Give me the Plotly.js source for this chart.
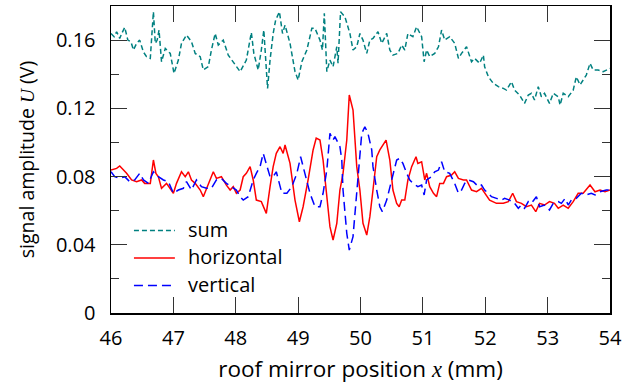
<!DOCTYPE html>
<html>
<head>
<meta charset="utf-8">
<script src="https://cdn.plot.ly/plotly-3.0.1.min.js"></script>
<style>html,body{margin:0;padding:0;background:#fff;}</style>
</head>
<body>
<div id="chart" style="width:635px;height:389px;"></div>
<script>
// sum signal
var sumX = [46.00,46.05,46.09,46.14,46.18,46.22,46.27,46.32,46.36,46.41,46.46,46.52,46.57,46.63,46.68,46.71,46.74,46.77,46.81,46.87,46.95,47.01,47.08,47.13,47.21,47.29,47.35,47.43,47.48,47.56,47.61,47.67,47.72,47.80,47.88,47.96,48.07,48.17,48.25,48.29,48.36,48.41,48.45,48.51,48.55,48.60,48.64,48.70,48.75,48.79,48.87,48.95,49.00,49.06,49.14,49.22,49.27,49.35,49.39,49.42,49.46,49.51,49.56,49.62,49.64,49.68,49.75,49.83,49.88,49.94,
  49.99,50.04,50.10,50.15,50.20,50.28,50.34,50.42,50.47,50.52,50.60,50.66,50.71,50.76,50.84,50.90,50.95,50.98,51.02,51.06,51.11,51.19,51.25,51.30,51.35,51.43,51.51,51.57,51.62,51.70,51.78,51.83,51.91,51.97,51.99,52.05,52.13,52.21,52.29,52.34,52.42,52.47,52.55,52.63,52.69,52.74,52.79,52.85,52.90,52.95,53.03,53.09,53.17,53.20,53.25,53.33,53.41,53.46,53.52,53.57,53.62,53.68,53.73,53.81,53.89,54.00];
var sumY = [0.1639,0.1620,0.1649,0.1610,0.1645,0.1675,0.1600,0.1590,0.1542,0.1580,0.1600,0.1530,0.1503,0.1493,0.1766,0.1581,0.1600,0.1659,0.1473,0.1551,0.1522,0.1405,0.1483,0.1581,0.1630,0.1591,0.1522,0.1503,0.1425,0.1444,0.1542,0.1639,0.1571,0.1600,0.1512,0.1473,0.1415,0.1483,0.1645,0.1522,0.1425,0.1542,0.1659,0.1317,0.1483,0.1639,0.1718,0.1766,0.1639,0.1688,0.1581,0.1415,0.1366,0.1473,0.1542,0.1669,0.1669,0.1600,0.1542,0.1757,0.1415,0.1483,0.1444,0.1561,0.1464,0.1766,0.1737,0.1639,0.1542,0.1561,
  0.1639,0.1600,0.1522,0.1600,0.1610,0.1649,0.1581,0.1639,0.1542,0.1512,0.1522,0.1571,0.1542,0.1639,0.1620,0.1678,0.1639,0.1620,0.1473,0.1542,0.1503,0.1522,0.1561,0.1659,0.1600,0.1620,0.1581,0.1493,0.1522,0.1561,0.1473,0.1493,0.1464,0.1512,0.1444,0.1385,0.1346,0.1327,0.1317,0.1307,0.1356,0.1307,0.1278,0.1229,0.1278,0.1288,0.1249,0.1327,0.1268,0.1288,0.1229,0.1288,0.1268,0.1219,0.1288,0.1268,0.1307,0.1385,0.1337,0.1366,0.1395,0.1464,0.1425,0.1425,0.1415,0.1434];

// horizontal signal
var horX = [46.00,46.09,46.14,46.20,46.25,46.33,46.41,46.49,46.54,46.63,46.68,46.72,46.76,46.81,46.89,47.00,47.05,47.13,47.19,47.24,47.29,47.35,47.43,47.48,47.56,47.64,47.69,47.77,47.85,47.91,47.96,48.01,48.07,48.12,48.17,48.23,48.28,48.33,48.41,48.49,48.55,48.60,48.65,48.71,48.76,48.79,48.87,48.95,49.02,49.08,49.16,49.24,49.29,49.35,49.40,49.46,49.51,49.56,49.62,49.67,49.72,49.78,49.82,49.88,49.94,
  49.99,50.04,50.10,50.15,50.20,50.26,50.31,50.36,50.41,50.47,50.52,50.58,50.62,50.66,50.71,50.76,50.82,50.89,50.92,50.98,51.03,51.06,51.11,51.17,51.22,51.27,51.33,51.38,51.46,51.51,51.57,51.65,51.70,51.78,51.86,51.94,51.99,52.07,52.18,52.29,52.37,52.44,52.50,52.58,52.66,52.74,52.81,52.87,52.95,53.03,53.11,53.17,53.25,53.33,53.41,53.49,53.57,53.68,53.76,53.84,53.92,54.00];
var horY = [0.0838,0.0848,0.0862,0.0838,0.0819,0.0780,0.0770,0.0780,0.0760,0.0760,0.0897,0.0819,0.0799,0.0731,0.0760,0.0702,0.0760,0.0828,0.0799,0.0828,0.0780,0.0760,0.0721,0.0682,0.0760,0.0828,0.0789,0.0799,0.0750,0.0721,0.0741,0.0702,0.0721,0.0799,0.0819,0.0858,0.0780,0.0662,0.0653,0.0584,0.0741,0.0858,0.0936,0.0975,0.0936,0.0985,0.0877,0.0662,0.0535,0.0623,0.0780,0.0956,0.1025,0.1014,0.0897,0.0662,0.0506,0.0428,0.0526,0.0721,0.0819,0.1014,0.1278,0.1190,0.0858,
  0.0721,0.0526,0.0457,0.0565,0.0721,0.0916,0.0956,0.0985,0.1014,0.0897,0.0721,0.0643,0.0623,0.0662,0.0662,0.0780,0.0858,0.0916,0.0877,0.0887,0.0780,0.0819,0.0741,0.0702,0.0682,0.0760,0.0760,0.0799,0.0809,0.0828,0.0789,0.0780,0.0780,0.0721,0.0711,0.0731,0.0702,0.0662,0.0643,0.0643,0.0653,0.0702,0.0653,0.0643,0.0623,0.0633,0.0594,0.0643,0.0633,0.0653,0.0643,0.0614,0.0633,0.0614,0.0653,0.0702,0.0702,0.0750,0.0711,0.0721,0.0711,0.0721];

// vertical signal
var verX = [46.00,46.06,46.14,46.22,46.30,46.38,46.46,46.52,46.60,46.68,46.76,46.84,46.92,47.00,47.08,47.16,47.21,47.29,47.37,47.45,47.53,47.61,47.69,47.77,47.85,47.93,48.01,48.07,48.12,48.20,48.28,48.33,48.39,48.44,48.49,48.55,48.60,48.65,48.74,48.82,48.90,48.98,49.04,49.11,49.19,49.27,49.35,49.40,49.46,49.51,49.56,49.59,49.64,49.67,49.70,49.72,49.78,49.82,49.88,49.94,49.99,50.02,50.07,50.12,50.18,
  50.20,50.26,50.31,50.35,50.42,50.50,50.58,50.63,50.68,50.74,50.79,50.84,50.92,50.98,51.02,51.06,51.14,51.19,51.25,51.30,51.35,51.43,51.51,51.57,51.62,51.67,51.73,51.81,51.89,51.94,51.99,52.05,52.10,52.18,52.26,52.31,52.39,52.47,52.53,52.58,52.63,52.69,52.74,52.82,52.87,52.95,53.03,53.09,53.17,53.22,53.28,53.33,53.38,53.46,53.54,53.62,53.70,53.76,53.84,53.94,54.00];
var verY = [0.0828,0.0799,0.0789,0.0799,0.0770,0.0780,0.0819,0.0780,0.0760,0.0828,0.0799,0.0780,0.0770,0.0702,0.0721,0.0731,0.0770,0.0721,0.0780,0.0741,0.0731,0.0731,0.0780,0.0789,0.0760,0.0741,0.0721,0.0682,0.0662,0.0682,0.0780,0.0819,0.0858,0.0936,0.0877,0.0799,0.0799,0.0828,0.0702,0.0702,0.0741,0.0819,0.0916,0.0819,0.0702,0.0623,0.0623,0.0702,0.0838,0.1053,0.1014,0.1034,0.0995,0.0975,0.0897,0.0721,0.0467,0.0369,0.0448,0.0721,0.0916,0.1053,0.1092,0.1053,0.0956,
  0.0858,0.0721,0.0623,0.0594,0.0662,0.0780,0.0897,0.0907,0.0877,0.0819,0.0780,0.0760,0.0741,0.0750,0.0692,0.0780,0.0799,0.0828,0.0838,0.0887,0.0828,0.0819,0.0760,0.0702,0.0721,0.0760,0.0780,0.0770,0.0741,0.0750,0.0721,0.0702,0.0682,0.0672,0.0662,0.0672,0.0662,0.0643,0.0614,0.0633,0.0614,0.0653,0.0643,0.0682,0.0623,0.0633,0.0604,0.0643,0.0653,0.0643,0.0672,0.0633,0.0662,0.0672,0.0702,0.0692,0.0702,0.0692,0.0711,0.0721,0.0721];

var seriesNames = ['sum', 'horizontal', 'vertical'];
var seriesColors = ['#008080', '#ff0000', '#0000ff'];
var seriesDash = ['5px,3px', 'solid', '9px,5px'];
var xTicks = [46,47,48,49,50,51,52,53,54];
var yTicks = [0,0.04,0.08,0.12,0.16];
var yTickText = ['0','0.04','0.08','0.12','0.16'];

var FONT = "'Open Sans', sans-serif";
var MATH = "font-family:'Liberation Serif',serif;font-style:italic";

var seriesX = [sumX, horX, verX];
var seriesY = [sumY, horY, verY];
var traces = seriesNames.map(function (n, i) {
  return {x: seriesX[i], y: seriesY[i], name: n, type: 'scatter', mode: 'lines',
          line: {color: seriesColors[i], width: 1.5, dash: seriesDash[i]}};
});

// legend drawn in paper space (inside plot, lower left)
var legRowY = [0.2687, 0.1792, 0.0896];
var legShapes = seriesNames.map(function (n, i) {
  return {type: 'line', xref: 'paper', yref: 'paper', x0: 0.046, x1: 0.128, y0: legRowY[i], y1: legRowY[i],
          line: {color: seriesColors[i], width: 1.5, dash: seriesDash[i]}};
});
var legAnn = seriesNames.map(function (n, i) {
  return {xref: 'paper', yref: 'paper', x: 0.150, y: legRowY[i] + 0.004, xanchor: 'left', yanchor: 'middle',
          text: n, showarrow: false, font: {family: FONT, size: 20, color: '#000'}};
});

var layout = {
  width: 635, height: 389,
  margin: {l: 111, r: 25, t: 6, b: 76, pad: 0},
  paper_bgcolor: '#fff', plot_bgcolor: '#fff',
  font: {family: FONT, size: 20, color: '#000'},
  showlegend: false,
  shapes: legShapes,
  annotations: legAnn,
  xaxis: {
    range: [46, 54], tickvals: xTicks, ticks: 'inside', ticklen: 16, tickwidth: 1, tickcolor: '#333',
    showline: true, linecolor: '#000', linewidth: 1.5, mirror: 'ticks', showgrid: false, zeroline: false,
    tickfont: {family: FONT, size: 20}, ticklabelstandoff: 6,
    title: {text: 'roof mirror position <span style="' + MATH + '">x</span> (mm)', font: {family: FONT, size: 22.5}, standoff: 11}
  },
  yaxis: {
    range: [0, 0.18], tickvals: yTicks, ticktext: yTickText, ticks: 'inside', ticklen: 16, tickwidth: 1, tickcolor: '#333',
    minor: {dtick: 0.02, ticks: 'inside', ticklen: 8, tickwidth: 1, tickcolor: '#333', showgrid: false},
    showline: true, linecolor: '#000', linewidth: 1.5, mirror: 'ticks', showgrid: false, zeroline: false,
    tickfont: {family: FONT, size: 20}, ticklabelstandoff: 10,
    title: {text: 'signal amplitude <span style="' + MATH + '">U</span> (V)', font: {family: FONT, size: 19.5}, standoff: 16}
  }
};

Plotly.newPlot('chart', traces, layout, {displayModeBar: false, staticPlot: true});
</script>
</body>
</html>
